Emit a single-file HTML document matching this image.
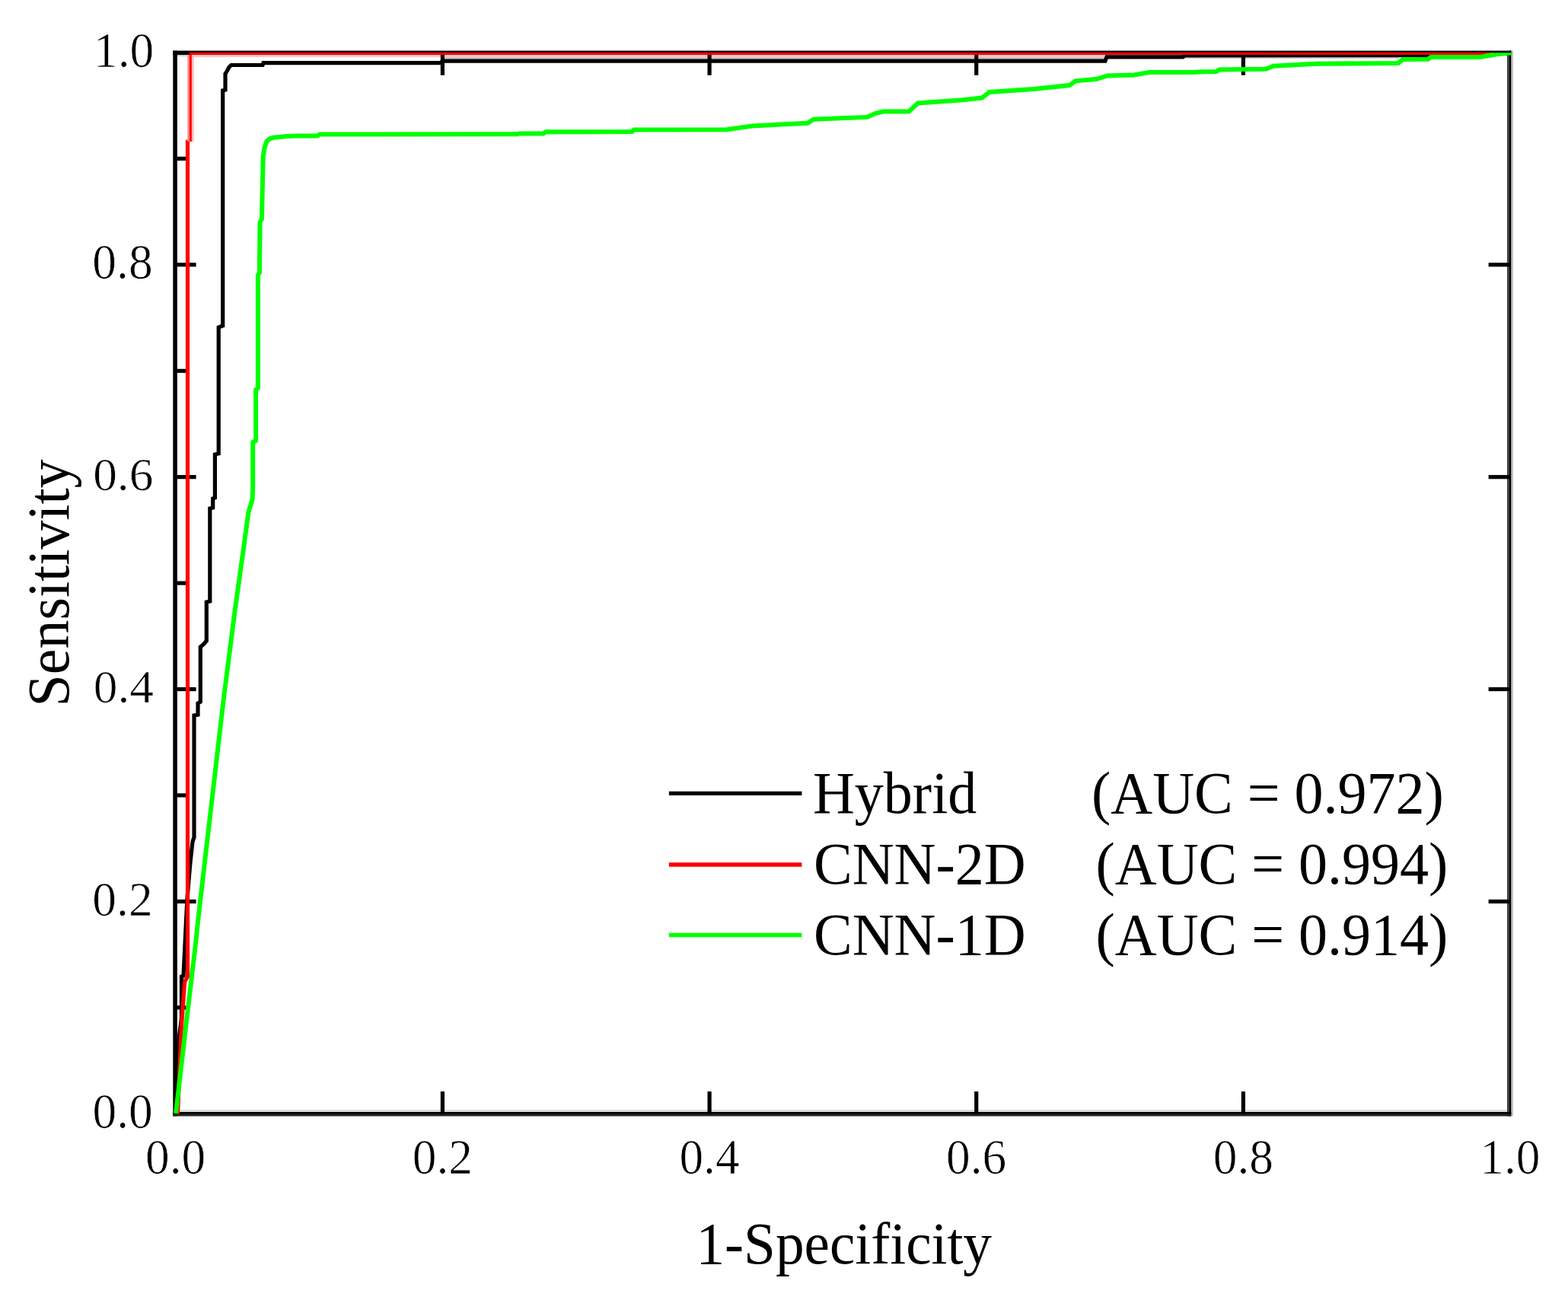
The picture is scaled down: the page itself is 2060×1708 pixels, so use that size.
<!DOCTYPE html>
<html lang="en">
<head>
<meta charset="utf-8">
<title>ROC curves: Hybrid, CNN-2D, CNN-1D</title>
<style>
html,body{margin:0;padding:0;background:#fff;}
body{width:2060px;height:1708px;overflow:hidden;}
svg{display:block;}
</style>
</head>
<body>
<svg width="2060" height="1708" viewBox="0 0 2060 1708">
<rect x="0" y="0" width="2060" height="1708" fill="#ffffff"/>
<g id="plot">
<g id="halo">
<rect x="232.85" y="1458.20" width="1747.15" height="2.80" fill="#d8d8d8"/>
<rect x="1985.30" y="66.60" width="2.60" height="1399.90" fill="#c0c0c0"/>
<rect x="232.85" y="72.10" width="13.55" height="2.30" fill="#d8d8d8"/>
<rect x="254.00" y="72.00" width="1199.00" height="3.00" fill="#ffc8c8"/>
<rect x="581.00" y="75.00" width="872.00" height="2.60" fill="#c8c8c8"/>
<rect x="1556.00" y="74.80" width="282.00" height="2.40" fill="#d0d0d0"/>
</g>
<g id="frame">
<rect x="227.30" y="66.60" width="5.55" height="1399.90" fill="#000000"/>
<rect x="227.30" y="66.60" width="1758.00" height="5.50" fill="#000000"/>
<rect x="1980.00" y="66.60" width="2.90" height="1399.90" fill="#404040"/>
<rect x="1982.90" y="66.60" width="2.40" height="1399.90" fill="#000000"/>
<rect x="227.30" y="1461.00" width="1758.00" height="2.90" fill="#000000"/>
<rect x="227.30" y="1463.90" width="1758.00" height="2.60" fill="#222222"/>
</g>
<g id="ticks" stroke="#000" stroke-width="5.2" fill="none">
<line x1="581.4" y1="1463.5" x2="581.4" y2="1434.0"/>
<line x1="581.4" y1="69.3" x2="581.4" y2="98.8"/>
<line x1="230.1" y1="1184.4" x2="257.6" y2="1184.4"/>
<line x1="1983.3" y1="1184.4" x2="1955.6" y2="1184.4"/>
<line x1="932.1" y1="1463.5" x2="932.1" y2="1434.0"/>
<line x1="932.1" y1="69.3" x2="932.1" y2="98.8"/>
<line x1="230.1" y1="905.5" x2="257.6" y2="905.5"/>
<line x1="1983.3" y1="905.5" x2="1955.6" y2="905.5"/>
<line x1="1282.7" y1="1463.5" x2="1282.7" y2="1434.0"/>
<line x1="1282.7" y1="69.3" x2="1282.7" y2="98.8"/>
<line x1="230.1" y1="626.7" x2="257.6" y2="626.7"/>
<line x1="1983.3" y1="626.7" x2="1955.6" y2="626.7"/>
<line x1="1633.4" y1="1463.5" x2="1633.4" y2="1434.0"/>
<line x1="1633.4" y1="69.3" x2="1633.4" y2="98.8"/>
<line x1="230.1" y1="347.8" x2="257.6" y2="347.8"/>
<line x1="1983.3" y1="347.8" x2="1955.6" y2="347.8"/>
<line x1="230.1" y1="1323.8" x2="244.2" y2="1323.8"/>
<line x1="230.1" y1="1044.9" x2="244.2" y2="1044.9"/>
<line x1="230.1" y1="766.1" x2="244.2" y2="766.1"/>
<line x1="230.1" y1="487.3" x2="244.2" y2="487.3"/>
<line x1="230.1" y1="208.4" x2="244.2" y2="208.4"/>
</g>
<g id="curves" fill="none" stroke-linejoin="miter" stroke-linecap="butt">
<polyline stroke="#000000" stroke-width="5.2" points="231.0,1463.0 232.5,1410.0 235.0,1365.0 238.5,1338.0 238.5,1283.0 241.0,1282.0 243.0,1240.0 246.0,1180.0 250.0,1133.0 253.0,1106.0 255.0,1100.0 255.0,940.0 260.0,939.0 260.0,924.0 263.3,922.0 263.3,850.0 268.0,846.0 271.3,842.0 271.3,791.0 275.8,790.0 275.8,668.0 279.7,667.0 279.7,655.0 282.4,654.0 282.4,597.0 287.2,596.0 287.2,430.0 292.7,428.0 292.7,119.0 296.0,118.0 296.0,97.0 298.7,92.5 301.0,88.0 303.8,85.5 345.0,85.5 346.0,82.7 579.5,82.7 581.0,80.1 1452.0,80.1 1454.0,74.8 1554.0,74.8 1556.0,73.0 1878.0,72.6 1983.0,70.5"/>
<polyline stroke="#ff0000" stroke-width="5.2" points="233.5,1463.0 238.3,1350.0 242.6,1290.0 246.5,1283.0 246.5,183.8"/>
<rect x="246.40" y="72.00" width="2.60" height="114.00" fill="#ff8080"/>
<rect x="251.90" y="72.00" width="2.70" height="114.00" fill="#ffb8b8"/>
<rect x="249.00" y="68.75" width="2.90" height="117.25" fill="#ff0000"/>
<rect x="249.00" y="68.75" width="1713.00" height="3.25" fill="#ff0000"/>
<polyline stroke="#00ff00" stroke-width="6.0" points="231.0,1463.0 244.0,1350.0 257.0,1240.0 261.2,1200.0 293.6,920.0 308.4,804.0 319.8,722.0 326.4,673.0 331.6,656.0 332.2,640.0 332.2,581.0 336.1,579.0 336.1,512.0 338.9,510.0 338.9,362.0 340.9,358.0 341.5,292.0 343.9,288.0 345.7,206.0 347.5,194.0 350.5,185.5 354.0,182.5 359.3,180.8 376.8,179.0 390.0,178.6 417.0,178.4 420.0,176.5 679.0,176.3 682.0,175.6 714.0,175.5 717.0,173.3 830.0,173.1 833.0,170.4 955.0,170.2 988.0,165.5 1061.0,161.7 1069.0,156.8 1139.0,153.9 1150.0,149.0 1160.0,146.6 1194.0,146.5 1206.0,135.4 1263.0,131.6 1290.0,128.6 1300.0,120.9 1358.0,117.0 1405.0,112.1 1413.0,106.3 1440.0,104.0 1455.0,99.5 1490.0,98.5 1510.0,95.0 1568.0,95.0 1580.0,94.2 1598.0,94.0 1602.0,91.4 1663.0,90.8 1673.0,86.8 1729.0,83.8 1837.0,82.9 1843.0,78.0 1876.0,77.8 1880.0,75.1 1945.0,75.0"/>
<polygon fill="#00ff00" points="1944.5,72.0 1952,70.6 1960.5,69.2 1985.6,69.2 1985.6,72.4 1972,73.2 1960,75.6 1944.5,78.0"/>
</g>
<g id="legend-lines" stroke-width="5.4" fill="none">
<line x1="878.9" y1="1042.4" x2="1053.4" y2="1042.4" stroke="#000000"/>
<line x1="878.9" y1="1136.0" x2="1053.4" y2="1136.0" stroke="#ff0000"/>
<line x1="878.9" y1="1228.5" x2="1053.4" y2="1228.5" stroke="#00ff00"/>
</g>
<g id="labels" font-family="'Liberation Serif', 'Times New Roman', serif" fill="#000" style="font-variant-ligatures:none;font-kerning:none">
<text transform="translate(230.7,1542.1) scale(1,1.027)" font-size="63.4" text-anchor="middle" stroke="#fff" stroke-width="0.7">0.0</text>
<text transform="translate(581.3,1542.1) scale(1,1.027)" font-size="63.4" text-anchor="middle" stroke="#fff" stroke-width="0.7">0.2</text>
<text transform="translate(932.0,1542.1) scale(1,1.027)" font-size="63.4" text-anchor="middle" stroke="#fff" stroke-width="0.7">0.4</text>
<text transform="translate(1282.6,1542.1) scale(1,1.027)" font-size="63.4" text-anchor="middle" stroke="#fff" stroke-width="0.7">0.6</text>
<text transform="translate(1633.3,1542.1) scale(1,1.027)" font-size="63.4" text-anchor="middle" stroke="#fff" stroke-width="0.7">0.8</text>
<text transform="translate(1983.9,1542.1) scale(1,1.027)" font-size="63.4" text-anchor="middle" stroke="#fff" stroke-width="0.7">1.0</text>
<text transform="translate(202.2,87.7) scale(1,1.0223)" font-size="63.4" text-anchor="end" stroke="#fff" stroke-width="0.7">1.0</text>
<text transform="translate(200.6,366.1) scale(1,1.0223)" font-size="63.4" text-anchor="end" stroke="#fff" stroke-width="0.7">0.8</text>
<text transform="translate(201.4,644.2) scale(1,0.9588)" font-size="63.4" text-anchor="end" stroke="#fff" stroke-width="0.7">0.6</text>
<text transform="translate(202.0,923.0) scale(1,0.9682)" font-size="63.4" text-anchor="end" stroke="#fff" stroke-width="0.7">0.4</text>
<text transform="translate(200.6,1203.2) scale(1,1.0058)" font-size="63.4" text-anchor="end" stroke="#fff" stroke-width="0.7">0.2</text>
<text transform="translate(200.8,1482.3) scale(1,1.0317)" font-size="63.4" text-anchor="end" stroke="#fff" stroke-width="0.7">0.0</text>
<text transform="translate(1108.7,1660.0) scale(0.99,1.02)" font-size="76" text-anchor="middle">1-Specificity</text>
<text transform="translate(90.2,766.0) rotate(-90) scale(1,1.02)" font-size="76" text-anchor="middle">Sensitivity</text>
<text transform="translate(1068.0,1068.0) scale(1,1.02)" font-size="76" text-anchor="start">Hybrid</text>
<text transform="translate(1069.0,1161.0) scale(1,1.02)" font-size="76" text-anchor="start">CNN-2D</text>
<text transform="translate(1069.0,1254.0) scale(1,1.02)" font-size="76" text-anchor="start">CNN-1D</text>
<text transform="translate(1434.0,1068.0) scale(1,1.02)" font-size="76" text-anchor="start">(AUC = 0.972)</text>
<text transform="translate(1439.5,1161.0) scale(1,1.02)" font-size="76" text-anchor="start">(AUC = 0.994)</text>
<text transform="translate(1439.5,1254.0) scale(1,1.02)" font-size="76" text-anchor="start">(AUC = 0.914)</text>
</g>
</g>
</svg>
</body>
</html>
